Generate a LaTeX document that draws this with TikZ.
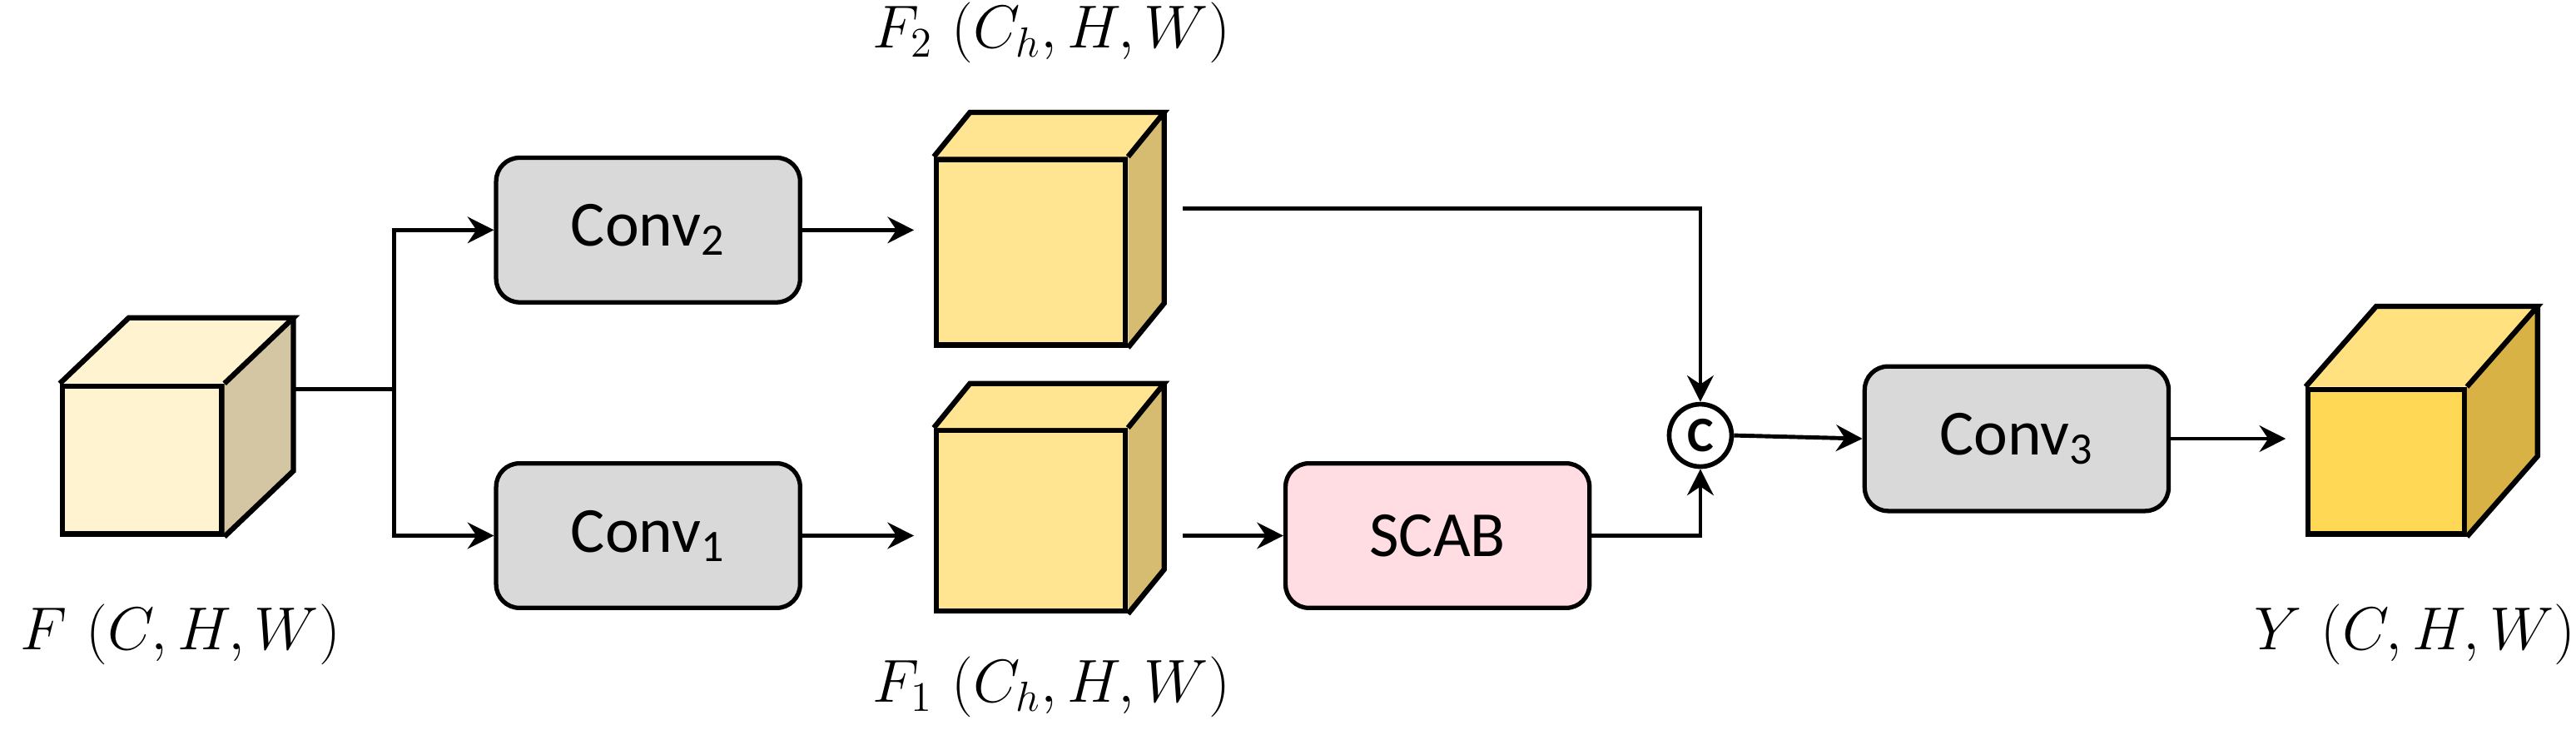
\documentclass[tikz,border=0pt]{standalone}
\usepackage{fontspec}
\setsansfont{Carlito}
\usetikzlibrary{positioning, arrows.meta, calc}

\definecolor{inlight}{HTML}{FFF3D0}
\definecolor{inside}{HTML}{D4C5A3}
\definecolor{midfront}{HTML}{FFE591}
\definecolor{midside}{HTML}{D6BC70}
\definecolor{outfront}{HTML}{FFD955}
\definecolor{outtop}{HTML}{FFE27F}
\definecolor{outside}{HTML}{D8B244}
\definecolor{convgray}{HTML}{D9D9D9}
\definecolor{scabpink}{HTML}{FFDDE3}

% cube: name, front colour, top colour, side colour, depth x, depth y
\newcommand{\featcube}[6]{
    \fill[#3] (#1.north west) -- ++(#5,#6) -- ($(#1.north east)+(#5,#6)$) -- (#1.north east) -- cycle;
    \fill[#4] (#1.north east) -- ++(#5,#6) -- ($(#1.south east)+(#5,#6)$) -- (#1.south east) -- cycle;
    \draw[cubeline] (#1.north west) -- ++(#5,#6) -- ($(#1.north east)+(#5,#6)$) -- (#1.north east)
        ($(#1.north east)+(#5,#6)$) -- ($(#1.south east)+(#5,#6)$) -- (#1.south east);
}

\begin{document}
\begin{tikzpicture}[
    x=0.01974cm, y=-0.01974cm,
    cubeline/.style={line width=1.8pt, line join=miter},
    cubefront/.style={rectangle, draw, line width=1.8pt, inner sep=0pt},
    convbox/.style={rectangle, rounded corners=8pt, draw, line width=1.5pt,
        minimum width=185*0.01974cm, minimum height=88*0.01974cm,
        font=\sffamily\fontsize{22}{24}\selectfont},
    myarrow/.style={-{Stealth[length=9pt, width=9pt, inset=3pt]}, line width=1.4pt},
    mylabel/.style={font=\fontsize{21}{24}\selectfont}]

    \useasboundingbox (0,0) rectangle (1568,450);

    % cubes
    \node[cubefront, fill=inlight, minimum width=97*0.01974cm, minimum height=90*0.01974cm] (fin) at (86.5,280) {};
    \featcube{fin}{inlight}{inlight}{inside}{42}{-40}

    \node[cubefront, fill=midfront, minimum width=115*0.01974cm, minimum height=113*0.01974cm] (ftwo) at (627.5,153.5) {};
    \featcube{ftwo}{midfront}{midfront}{midside}{22}{-27}

    \node[cubefront, fill=midfront, minimum width=115*0.01974cm, minimum height=110*0.01974cm] (fone) at (627.5,317) {};
    \featcube{fone}{midfront}{midfront}{midside}{22}{-27}

    \node[cubefront, fill=outfront, minimum width=95*0.01974cm, minimum height=88*0.01974cm] (yout) at (1452.5,281) {};
    \featcube{yout}{outfront}{outtop}{outside}{43}{-49}

    % blocks
    \node[convbox, fill=convgray] (convtwo) at (394.5,140) {Conv\textsubscript{2}};
    \node[convbox, fill=convgray] (convone) at (394.5,326) {Conv\textsubscript{1}};
    \node[convbox, fill=scabpink] (scab) at (875,326) {SCAB};
    \node[convbox, fill=convgray] (convthree) at (1227.5,267) {Conv\textsubscript{3}};
    \node[circle, draw, line width=1.6pt, inner sep=1pt, minimum size=38*0.01974cm,
        font=\sffamily\bfseries\fontsize{17}{18}\selectfont] (cat) at (1035,265) {C};

    % labels
    \node[mylabel] (lin) at (110,386) {$F\ (C,H,W)$};
    \node[mylabel] (ltwo) at (640,20) {$F_2\ (C_h,H,W)$};
    \node[mylabel] (lone) at (640,418) {$F_1\ (C_h,H,W)$};
    \node[mylabel] (lout) at (1470,386) {$Y\ (C,H,W)$};

    \coordinate (split) at (240,237);
    \coordinate (ftwoout) at (720,127);
    \coordinate (foneout) at (720,326);

    \draw[line width=1.4pt] (fin.east |- split) ++(42,0) -- (split);
    \draw[myarrow] (split) |- (convtwo.west);
    \draw[myarrow] (split) |- (convone.west);
    \draw[myarrow] (convtwo.east) -- ++(68,0);
    \draw[myarrow] (convone.east) -- ++(68,0);
    \draw[myarrow] (ftwoout) -| (cat.north);
    \draw[myarrow] (foneout) -- (scab.west);
    \draw[myarrow] (scab.east) -| (cat.south);
    \draw[myarrow] (cat.east) -- (convthree.west);
    \draw[myarrow] (convthree.east) -- ++(70,0);
\end{tikzpicture}
\end{document}
